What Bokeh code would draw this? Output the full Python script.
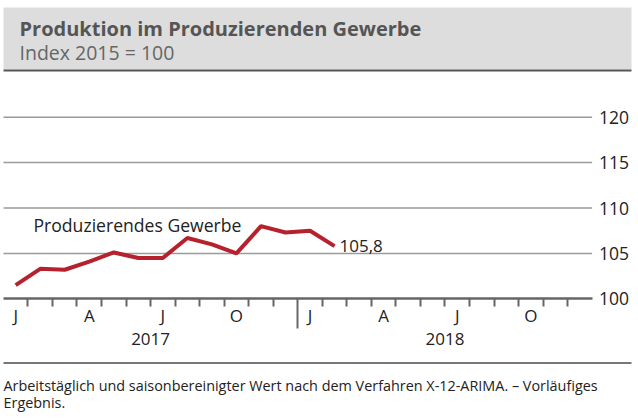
from bokeh.plotting import figure
from bokeh.models import Range1d, LinearAxis, FixedTicker, Label, BoxAnnotation
from bokeh.embed import file_html
from bokeh.resources import INLINE

# ---------------- data ----------------
months = ["Jan 2017", "Feb 2017", "Mär 2017", "Apr 2017", "Mai 2017", "Jun 2017",
          "Jul 2017", "Aug 2017", "Sep 2017", "Okt 2017", "Nov 2017", "Dez 2017",
          "Jan 2018", "Feb 2018"]
values = [101.5, 103.3, 103.2, 104.1, 105.1, 104.5, 104.5, 106.7, 106.0, 105.0,
          108.0, 107.3, 107.5, 105.8]
quarter_letters = ["J", "A", "J", "O"]
years = ["2017", "2018"]
y_ticks = [100, 105, 110, 115, 120]
series_name = "Produzierendes Gewerbe"
title_text = "Produktion im Produzierenden Gewerbe"
subtitle_text = "Index 2015 = 100"
footnote_lines = ["Arbeitstäglich und saisonbereinigter Wert nach dem Verfahren X-12-ARIMA. – Vorläufiges",
                  "Ergebnis."]

# ---------------- geometry helpers (page pixel -> data) ----------------
W, H = 638, 418

def X(px):
    return (px - 2.9) / 24.53

def Y(py):
    return 100 + (298.3 - py) / 9.08

n_months = 12 * len(years)
x_pos = [i + 0.5 for i in range(len(values))]
quarter_pos = [12 * y + 3 * q + 0.5 for y in range(len(years)) for q in range(4)]
quarter_labels = {quarter_pos[i]: quarter_letters[i % 4] for i in range(len(quarter_pos))}
month_bounds = [m for m in range(1, n_months) if m % 12 != 0]
year_bounds = [12 * y for y in range(1, len(years))]
year_pos = [12 * y + 6 for y in range(len(years))]
year_labels = {year_pos[i]: years[i] for i in range(len(years))}

FONT = "Open Sans"
TXT = "#222222"

p = figure(width=W, height=H, x_range=Range1d(X(0), X(W)), y_range=Range1d(Y(H), Y(0)),
           output_backend="svg", toolbar_location=None, min_border=0,
           x_axis_location=None, y_axis_location=None, title=None,
           outline_line_color=None, background_fill_color="white", border_fill_color="white")
p.grid.visible = False

# header band and rules
p.add_layout(BoxAnnotation(left=X(3), right=X(631), bottom=Y(69), top=Y(7),
                           fill_color="#dddddd", fill_alpha=1, line_color=None, level="underlay"))
p.add_layout(BoxAnnotation(left=X(3), right=X(631), bottom=Y(71), top=Y(69),
                           fill_color="#555555", fill_alpha=1, line_color=None, level="underlay"))
p.add_layout(BoxAnnotation(left=X(3), right=X(631), bottom=Y(363.5), top=Y(361.5),
                           fill_color="#777777", fill_alpha=1, line_color=None, level="underlay"))

# grid lines
grid_vals = [v for v in y_ticks if v != y_ticks[0]]
p.segment(x0=X(3), x1=n_months, y0=grid_vals, y1=grid_vals, line_color="#9a9a9a", line_width=1.5)

# x axis: months
xa = LinearAxis(fixed_location=y_ticks[0], bounds=(X(3), n_months),
                ticker=FixedTicker(ticks=quarter_pos, minor_ticks=month_bounds),
                major_label_overrides=quarter_labels,
                major_tick_line_color=None, major_tick_out=0, major_tick_in=0,
                minor_tick_line_color="#666666", minor_tick_line_width=2,
                minor_tick_out=8, minor_tick_in=0,
                axis_line_color="#666666", axis_line_width=2.5,
                major_label_standoff=-3, major_label_text_font=FONT,
                major_label_text_font_size="17px", major_label_text_color=TXT)
p.add_layout(xa, "below")

# x axis: years
ya2 = LinearAxis(fixed_location=y_ticks[0], bounds=(X(3), n_months),
                 ticker=FixedTicker(ticks=year_pos, minor_ticks=year_bounds),
                 major_label_overrides=year_labels,
                 axis_line_color=None,
                 major_tick_line_color=None, major_tick_out=0, major_tick_in=0,
                 minor_tick_line_color="#666666", minor_tick_line_width=2,
                 minor_tick_out=30, minor_tick_in=0,
                 major_label_standoff=4, major_label_text_font=FONT,
                 major_label_text_font_size="17px", major_label_text_color=TXT)
p.add_layout(ya2, "below")

# y axis on right
yax = LinearAxis(fixed_location=n_months, ticker=FixedTicker(ticks=y_ticks),
                 axis_line_color=None, major_tick_line_color=None, major_tick_out=0, major_tick_in=0,
                 minor_tick_line_color=None, major_label_standoff=7,
                 major_label_text_font=FONT, major_label_text_font_size="17.5px",
                 major_label_text_color=TXT)
p.add_layout(yax, "right")

# data line
p.line(x=x_pos, y=values, line_color="#b5222d", line_width=4)

# labels
p.add_layout(Label(x=X(33), y=Y(224), text=series_name, text_font=FONT, text_font_size="17.6px",
                   text_color=TXT, text_baseline="alphabetic"))
p.add_layout(Label(x=x_pos[-1], y=values[-1], x_offset=5, text=f"{values[-1]:.1f}".replace(".", ","),
                   text_font=FONT, text_font_size="17px", text_color=TXT, text_baseline="middle"))

p.add_layout(Label(x=X(19), y=Y(28), text=title_text, text_font=FONT, text_font_size="20px",
                   text_font_style="bold", text_color="#555555", text_baseline="alphabetic"))
p.add_layout(Label(x=X(19), y=Y(52), text=subtitle_text, text_font=FONT, text_font_size="19.5px",
                   text_color="#666666", text_baseline="alphabetic"))

for i, line in enumerate(footnote_lines):
    p.add_layout(Label(x=X(3), y=Y(384.5 + 17.5 * i), text=line, text_font=FONT, text_font_size="14.4px",
                       text_color=TXT, text_baseline="alphabetic"))

open("out.html", "w").write(file_html(p, INLINE))
